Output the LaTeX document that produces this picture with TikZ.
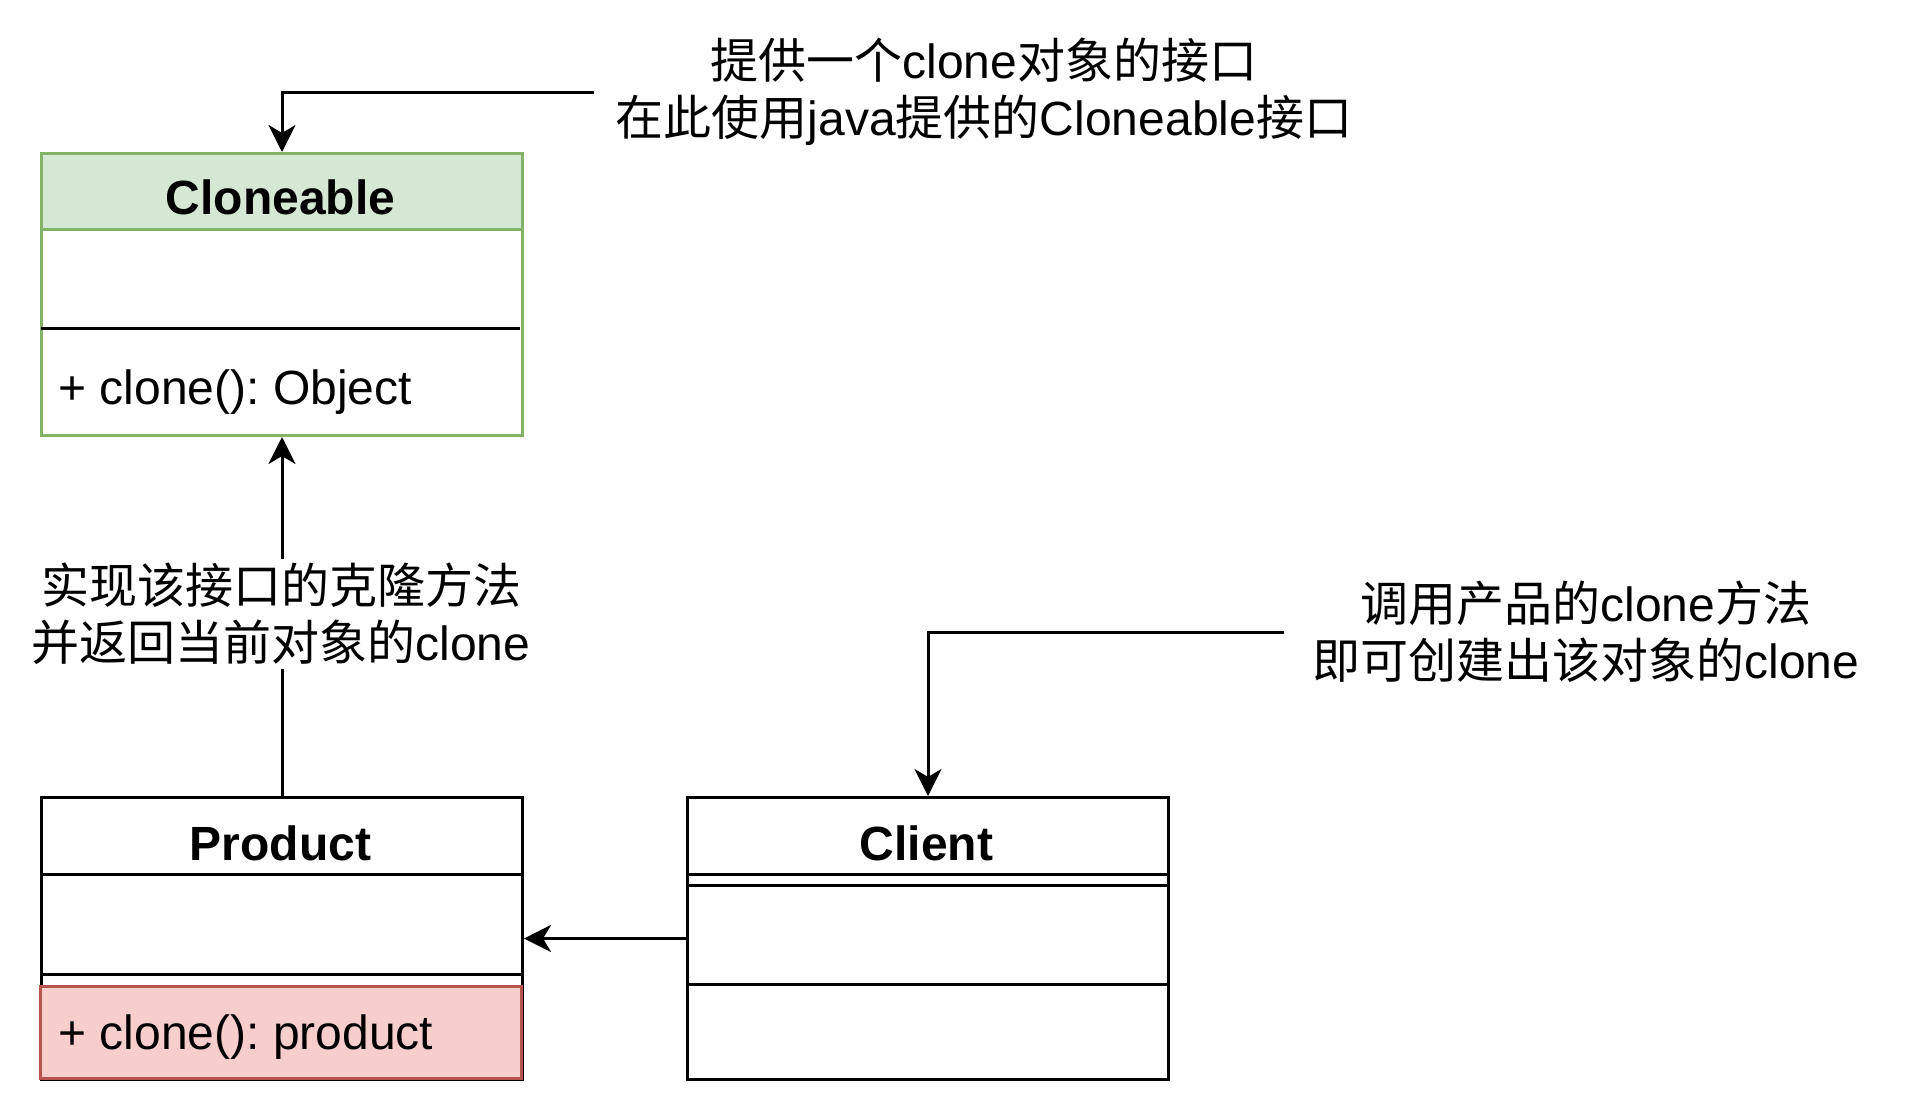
\documentclass[tikz,border=0pt]{standalone}
\usepackage{fontspec}
\setmainfont{Liberation Sans}
\newfontfamily\cjk{Noto Sans CJK SC}
\usetikzlibrary{arrows.meta}
\definecolor{gfill}{HTML}{D5E8D4}
\definecolor{gline}{HTML}{82B366}
\definecolor{rfill}{HTML}{F8CECC}
\definecolor{rline}{HTML}{B85450}
\newcommand\zhs[1]{{\cjk #1}}
\frenchspacing
\begin{document}
\begin{tikzpicture}[x=0.5pt,y=-0.5pt, line width=1.5pt,
  txt/.style={font=\fontsize{24}{28.5}\selectfont\frenchspacing, inner sep=0pt},
  ttl/.style={font=\fontsize{24}{28.5}\selectfont\bfseries, inner sep=0pt, anchor=base},
  conn/.style={-{Stealth[length=13.5pt,width=13.5pt,inset=4pt]}},
  classbox/.style={draw, minimum width=240.5pt, minimum height=141pt, inner sep=0pt, anchor=north west}]
\useasboundingbox (0,0) rectangle (1917,1119);
\fill[white] (0,0) rectangle (1917,1119);

% Cloneable
\fill[gfill] (40,152) rectangle (521,229);
\node[classbox, draw=gline] (cloneable) at (40,152) {};
\draw[gline] (40,229) -- (521,229);
\draw (41,328) -- (520,328);
\node[ttl] (cloneTitle) at (280.5,214) {Cloneable};
\node[txt, anchor=base west] (cloneOp) at (57,404) {+ clone(): Object};

% Product
\node[classbox] (product) at (40,796) {};
\draw (40,874) -- (521,874);
\draw (40,974) -- (521,974);
\filldraw[fill=rfill, draw=rline] (40,986) rectangle (521,1078);
\node[ttl] (prodTitle) at (280.5,860) {Product};
\node[txt, anchor=base west] (prodOp) at (57,1049) {+ clone(): product};

% Client
\node[classbox] (client) at (686,796) {};
\draw (686,874) -- (1167,874);
\draw (686,885) -- (1167,885);
\draw (686,984) -- (1167,984);
\node[ttl] (clientTitle) at (926.5,860) {Client};

% connectors
\draw[conn] (product.north) -- (cloneable.south);
\node[txt, fill=white, align=center, inner sep=2pt] (lblMid) at (281,614)
  {\zhs{实现该接口的克隆方法}\\\zhs{并返回当前对象的}clone};
\draw[conn] (client.west) -- (product.east);

\node[txt, align=center, text width=389pt] (lblTop) at (984,92)
  {\zhs{提供一个}clone\zhs{对象的接口}\\\zhs{在此使用}java\zhs{提供的}Cloneable\zhs{接口}};
\draw[conn] (lblTop.west) -| (cloneable.north);

\node[txt, align=center, text width=301pt] (lblRight) at (1586,632)
  {\zhs{调用产品的}clone\zhs{方法}\\\zhs{即可创建出该对象的}clone};
\draw[conn] (lblRight.west) -| (client.north);
\end{tikzpicture}
\end{document}
